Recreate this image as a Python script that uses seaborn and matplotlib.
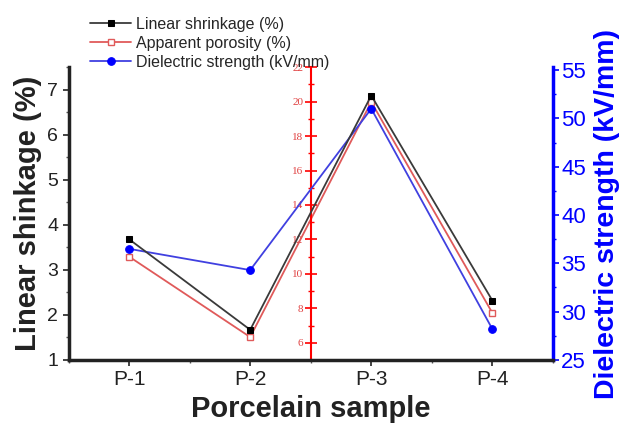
import pandas as pd
import numpy as np
import matplotlib
matplotlib.use("Agg")
import matplotlib.pyplot as plt
from matplotlib.ticker import MultipleLocator
import seaborn as sns

#DATA
samples = ["P-1", "P-2", "P-3", "P-4"]
shrinkage = [3.68, 1.67, 6.87, 2.32]
porosity = [11.0, 6.33, 19.98, 7.73]
dielectric = [36.5, 34.3, 51.0, 28.2]

sns.set_style("ticks")
plt.rcParams["font.family"] = ["Liberation Sans", "DejaVu Sans"]

df = pd.DataFrame({"Sample": samples, "Shrinkage": shrinkage,
                   "Porosity": porosity, "Dielectric": dielectric})

fig = plt.figure(figsize=(6.29, 4.25), dpi=100)
ax = fig.add_axes([0.109, 0.153, 0.77, 0.689])
ax_red = ax.twinx()
ax_blue = ax.twinx()

#Porosity line (middle red axis)
sns.lineplot(data=df, x="Sample", y="Porosity", ax=ax_red, color="#e05a5a",
             marker="s", markersize=5, markerfacecolor="white",
             markeredgecolor="#e05a5a", markeredgewidth=1, linewidth=1.3,
             label="Apparent porosity (%)", legend=False)
#Shrinkage line
sns.lineplot(data=df, x="Sample", y="Shrinkage", ax=ax, color="#3a3a3a",
             marker="s", markersize=5, markerfacecolor="black",
             markeredgecolor="black", linewidth=1.3,
             label="Linear shrinkage (%)", legend=False)
#Dielectric strength line
sns.lineplot(data=df, x="Sample", y="Dielectric", ax=ax_blue, color="#4040e0",
             marker="o", markersize=5.5, markerfacecolor="blue",
             markeredgecolor="blue", linewidth=1.3,
             label="Dielectric strength (kV/mm)", legend=False)
ax.set_zorder(ax_red.get_zorder() + 1)
ax.patch.set_visible(False)

ax.set_xlim(-0.5, 3.5)
ax.set_ylim(1, 7.5)
ax_red.set_ylim(5, 22)
ax_blue.set_ylim(25, 55.3)

#Left axis
ax.yaxis.set_major_locator(MultipleLocator(1))
ax.yaxis.set_minor_locator(MultipleLocator(0.5))
ax.xaxis.set_minor_locator(MultipleLocator(0.5))
ax.tick_params(axis="y", which="major", labelsize=14, length=4, width=1.2, colors="#222222")
ax.tick_params(axis="y", which="minor", length=2.5, width=1, colors="#555555")
ax.tick_params(axis="x", which="major", labelsize=15, length=4, width=1.2, colors="#222222")
ax.tick_params(axis="x", which="minor", length=2.5, width=1, colors="#555555")
for s in ["left", "bottom"]:
    ax.spines[s].set_linewidth(2.5)
    ax.spines[s].set_color("#222222")
ax.spines["top"].set_visible(False)
ax.spines["right"].set_visible(False)
ax.set_xlabel("Porcelain sample", fontsize=21, fontweight="bold", color="#222222", labelpad=4)
ax.set_ylabel("Linear shinkage (%)", fontsize=21, fontweight="bold", color="#222222", labelpad=4)

#Middle red axis
ax_red.spines["left"].set_position(("axes", 0.5))
ax_red.spines["left"].set_visible(True)
ax_red.spines["left"].set_color("red")
ax_red.spines["left"].set_linewidth(1.5)
for s in ["right", "top", "bottom"]:
    ax_red.spines[s].set_visible(False)
ax_red.yaxis.set_ticks_position("left")
ax_red.yaxis.set_label_position("left")
ax_red.yaxis.set_minor_locator(MultipleLocator(1))
ax_red.set_yticks(np.arange(6, 23, 2))
ax_red.tick_params(axis="y", which="major", direction="inout", length=9, width=1.2,
                   colors="red", labelsize=8, pad=1)
ax_red.tick_params(axis="y", which="minor", direction="inout", length=5, width=1, colors="red")
for lbl in ax_red.get_yticklabels():
    lbl.set_family(["Liberation Serif", "DejaVu Serif"])
    lbl.set_color("#e04040")
ax_red.set_ylabel("")

#Right blue axis
for s in ["left", "top", "bottom"]:
    ax_blue.spines[s].set_visible(False)
ax_blue.spines["right"].set_color("blue")
ax_blue.spines["right"].set_linewidth(2.5)
ax_blue.set_yticks(np.arange(25, 56, 5))
ax_blue.yaxis.set_minor_locator(MultipleLocator(2.5))
ax_blue.tick_params(axis="y", which="major", labelsize=16, length=4, width=1.2, colors="blue", pad=2)
ax_blue.tick_params(axis="y", which="minor", length=2.5, width=1, colors="blue")
ax_blue.set_ylabel("Dielectric strength (kV/mm)", fontsize=20.5, fontweight="bold",
                   color="blue", labelpad=6)

#Legend
handles = [ax.get_lines()[0], ax_red.get_lines()[0], ax_blue.get_lines()[0]]
fig.legend(handles=handles, labels=[h.get_label() for h in handles],
           loc="upper left", bbox_to_anchor=(0.143, 0.96), frameon=False,
           fontsize=11.5, handlelength=2.6, handletextpad=0.3, labelspacing=0.25,
           borderpad=0, borderaxespad=0)

plt.savefig("out.png", dpi=100)
